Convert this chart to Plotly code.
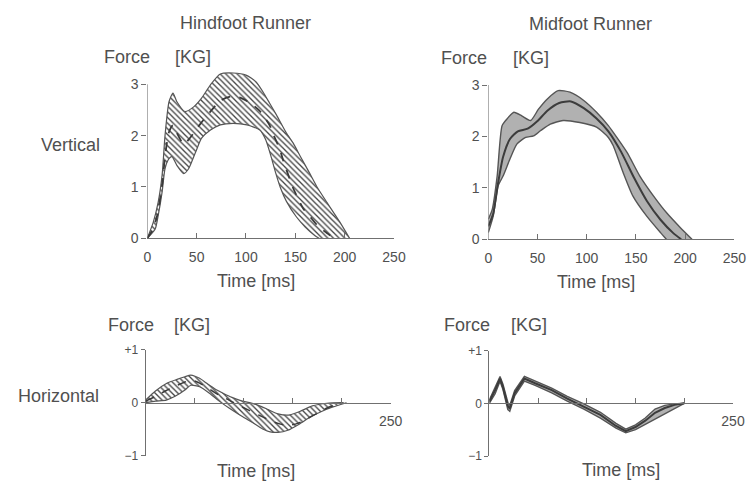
import plotly.graph_objects as go

W, H = 755, 482          # reference picture size
BODY = 8                 # page body margin the browser adds around the figure
FW, FH = W - BODY, H - BODY

# ---------------- data ----------------
# Hindfoot runner, vertical force [kg] vs time [ms]
hv_upper_t = [0, 6, 11, 15, 18, 22, 26, 30, 38, 47, 55, 64, 74, 87, 100, 110, 117, 124, 131, 141, 148, 155, 165, 172, 182, 195, 205]
hv_upper = [0, 0.31, 0.70, 1.23, 2.01, 2.66, 2.83, 2.66, 2.47, 2.56, 2.73, 2.99, 3.20, 3.22, 3.18, 3.05, 2.86, 2.63, 2.40, 2.05, 1.85, 1.60, 1.25, 1.00, 0.70, 0.32, 0]
hv_lower_t = [0, 8, 11, 15, 18, 22, 25, 30, 37, 42, 49, 55, 64, 74, 87, 101, 114, 120, 125, 130, 135, 141, 151, 160, 170, 174]
hv_lower = [0, 0.18, 0.44, 0.90, 1.36, 1.55, 1.59, 1.42, 1.26, 1.36, 1.68, 1.95, 2.11, 2.21, 2.24, 2.21, 2.11, 1.92, 1.62, 1.28, 0.98, 0.72, 0.42, 0.22, 0.05, 0]
hv_mean_t = [0, 5, 10, 15, 18, 22, 26, 30, 37, 43, 53, 64, 74, 84, 94, 104, 114, 124, 128, 134, 138, 148, 158, 165, 172, 180, 189]
hv_mean = [0, 0.15, 0.44, 1.03, 1.60, 2.07, 2.20, 2.05, 1.83, 1.95, 2.21, 2.47, 2.68, 2.76, 2.74, 2.64, 2.48, 2.20, 2.01, 1.75, 1.50, 0.97, 0.58, 0.42, 0.26, 0.13, 0]

# Midfoot runner, vertical force
mv_upper_t = [0, 4, 9, 14, 19, 26, 34, 43, 51, 60, 71, 83, 97, 110, 122, 127, 141, 154, 168, 181, 195, 207]
mv_upper = [0.39, 0.58, 1.23, 2.21, 2.34, 2.47, 2.40, 2.31, 2.53, 2.73, 2.89, 2.86, 2.70, 2.47, 2.21, 2.08, 1.69, 1.23, 0.84, 0.52, 0.23, 0]
mv_lower_t = [0, 5, 10, 15, 22, 29, 38, 46, 53, 63, 76, 93, 110, 122, 127, 137, 147, 161, 175, 181]
mv_lower = [0.13, 0.45, 1.04, 1.23, 1.56, 1.85, 1.98, 2.01, 2.11, 2.24, 2.31, 2.27, 2.18, 1.98, 1.82, 1.30, 0.84, 0.45, 0.13, 0]
mv_mean_t = [0, 5, 10, 15, 22, 30, 40, 50, 60, 72, 84, 97, 110, 122, 135, 148, 161, 175, 188, 196]
mv_mean = [0.25, 0.50, 1.10, 1.60, 1.95, 2.10, 2.15, 2.30, 2.50, 2.65, 2.68, 2.55, 2.35, 2.10, 1.70, 1.20, 0.75, 0.38, 0.12, 0]

# Hindfoot runner, horizontal force
hh_upper_t = [0, 10, 22, 32, 40, 46, 55, 62, 70, 79, 88, 97, 106, 115, 125, 135, 147, 158, 170, 185, 200]
hh_upper = [0.05, 0.22, 0.37, 0.44, 0.49, 0.52, 0.46, 0.37, 0.27, 0.18, 0.10, 0.04, 0.0, -0.05, -0.13, -0.21, -0.23, -0.16, -0.06, -0.01, 0]
hh_lower_t = [0, 10, 21, 30, 40, 46, 55, 65, 75, 85, 96, 105, 113, 120, 127, 135, 145, 157, 168, 180, 191, 205]
hh_lower = [0, 0.03, 0.05, 0.12, 0.24, 0.33, 0.30, 0.18, 0.03, -0.10, -0.23, -0.33, -0.42, -0.50, -0.55, -0.56, -0.52, -0.40, -0.27, -0.16, -0.08, 0]
hh_mean_t = [0, 10, 20, 30, 40, 46, 55, 65, 75, 85, 95, 105, 115, 125, 135, 145, 155, 165, 175, 185, 195, 202]
hh_mean = [0.03, 0.12, 0.22, 0.31, 0.39, 0.43, 0.37, 0.26, 0.14, 0.05, -0.05, -0.14, -0.23, -0.32, -0.39, -0.43, -0.39, -0.30, -0.20, -0.10, -0.03, 0]

# Midfoot runner, horizontal force
mh_t = [0, 6, 11, 14, 19, 21, 26, 36, 47, 64, 80, 97, 114, 130, 140, 150, 160, 170, 180, 190, 200]
mh_upper = [0.06, 0.32, 0.51, 0.36, 0.02, -0.04, 0.24, 0.51, 0.42, 0.29, 0.13, -0.01, -0.17, -0.38, -0.49, -0.41, -0.28, -0.11, -0.04, -0.01, 0]
mh_lower = [0.0, 0.18, 0.42, 0.26, -0.12, -0.15, 0.14, 0.42, 0.34, 0.20, 0.04, -0.11, -0.28, -0.47, -0.56, -0.50, -0.40, -0.30, -0.20, -0.09, 0]
mh_mean = [0.03, 0.25, 0.47, 0.31, -0.05, -0.10, 0.19, 0.47, 0.38, 0.25, 0.09, -0.06, -0.22, -0.43, -0.53, -0.45, -0.33, -0.18, -0.09, -0.03, 0]

vert_ticks = [0, 1, 2, 3]
time_ticks = [0, 50, 100, 150, 200, 250]
time_ticks_h = [50, 100, 150, 200, 250]
time_ticktext_h = ["", "", "", "", "250"]
horiz_ticks = [-1, 0, 1]
horiz_ticktext = ["\u22121", "0", "+1"]

# ---------------- styling ----------------
FONT = "Liberation Sans, Arial, Helvetica, sans-serif"
TXT = "#505050"
AX = "#707070"
EDGE = "#555555"

def fx(px):
    return (px - BODY) / FW

def fy(py):
    return (H - py) / FH

fig = go.Figure()

def hatched_band(t_lo, lo, t_hi, hi, xa, ya, shape_line):
    fig.add_trace(go.Scatter(x=t_lo, y=lo, mode="lines", xaxis=xa, yaxis=ya,
                             line=dict(color=EDGE, width=1.2, shape=shape_line, smoothing=0.6),
                             hoverinfo="skip", showlegend=False))
    fig.add_trace(go.Scatter(x=t_hi, y=hi, mode="lines", xaxis=xa, yaxis=ya, fill="tonexty",
                             fillpattern=dict(shape="\\", fgcolor="#454545", bgcolor="rgba(255,255,255,0)",
                                              size=4, solidity=0.33),
                             line=dict(color=EDGE, width=1.2, shape=shape_line, smoothing=0.6),
                             hoverinfo="skip", showlegend=False))

def gray_band(t_lo, lo, t_hi, hi, xa, ya, shape_line):
    fig.add_trace(go.Scatter(x=t_lo, y=lo, mode="lines", xaxis=xa, yaxis=ya,
                             line=dict(color="#555555", width=1.4, shape=shape_line, smoothing=0.6),
                             hoverinfo="skip", showlegend=False))
    fig.add_trace(go.Scatter(x=t_hi, y=hi, mode="lines", xaxis=xa, yaxis=ya, fill="tonexty",
                             fillcolor="rgba(125,125,125,0.6)",
                             line=dict(color="#555555", width=1.4, shape=shape_line, smoothing=0.6),
                             hoverinfo="skip", showlegend=False))

# top-left: hindfoot vertical
hatched_band(hv_lower_t, hv_lower, hv_upper_t, hv_upper, "x", "y", "spline")
fig.add_trace(go.Scatter(x=hv_mean_t, y=hv_mean, mode="lines", xaxis="x", yaxis="y",
                         line=dict(color="#3a3a3a", width=1.8, dash="dash", shape="spline", smoothing=0.6),
                         hoverinfo="skip", showlegend=False))

# top-right: midfoot vertical
gray_band(mv_lower_t, mv_lower, mv_upper_t, mv_upper, "x2", "y2", "spline")
fig.add_trace(go.Scatter(x=mv_mean_t, y=mv_mean, mode="lines", xaxis="x2", yaxis="y2",
                         line=dict(color="#3c3c3c", width=2, shape="spline", smoothing=0.6),
                         hoverinfo="skip", showlegend=False))

# bottom-left: hindfoot horizontal
hatched_band(hh_lower_t, hh_lower, hh_upper_t, hh_upper, "x3", "y3", "spline")
fig.add_trace(go.Scatter(x=hh_mean_t, y=hh_mean, mode="lines", xaxis="x3", yaxis="y3",
                         line=dict(color="#3a3a3a", width=1.5, dash="dash", shape="spline", smoothing=0.6),
                         hoverinfo="skip", showlegend=False))

# bottom-right: midfoot horizontal
gray_band(mh_t, mh_lower, mh_t, mh_upper, "x4", "y4", "linear")
fig.add_trace(go.Scatter(x=mh_t, y=mh_mean, mode="lines", xaxis="x4", yaxis="y4",
                         line=dict(color="#3c3c3c", width=2),
                         hoverinfo="skip", showlegend=False))

tickfont = dict(family=FONT, size=14, color=TXT)

def xaxis_top(dom, anchor):
    return dict(domain=dom, range=[0, 250], anchor=anchor, showline=True, linecolor=AX, linewidth=1,
                tickvals=time_ticks, ticks="inside", ticklen=5, tickcolor=AX, tickfont=tickfont,
                ticklabelstandoff=6,
                showgrid=False, zeroline=False, fixedrange=True, automargin=False)

def yaxis_top(dom, anchor, top):
    return dict(domain=dom, range=[0, top], anchor=anchor, showline=False,
                tickvals=vert_ticks, ticks="outside", ticklen=5, tickcolor=AX, tickfont=tickfont,
                showgrid=False, zeroline=False, fixedrange=True, automargin=False)

def xaxis_bot(dom, pos):
    return dict(domain=dom, range=[0, 250], anchor="free", position=pos, showline=True, linecolor=AX,
                linewidth=1, tickvals=time_ticks_h, ticktext=time_ticktext_h, ticks="inside", ticklen=5,
                tickcolor=AX, tickfont=dict(family=FONT, size=14, color=TXT), ticklabelstandoff=5,
                showgrid=False, zeroline=False, fixedrange=True, automargin=False)

def yaxis_bot(dom, anchor):
    return dict(domain=dom, range=[-1, 1], anchor=anchor, showline=True, linecolor=AX, linewidth=1,
                tickvals=horiz_ticks, ticktext=horiz_ticktext, ticks="outside", ticklen=4, tickcolor=AX,
                tickfont=dict(family=FONT, size=12, color=TXT),
                showgrid=False, zeroline=False, fixedrange=True, automargin=False)

tl_top = 3.3
fig.update_layout(
    template="none",
    xaxis=xaxis_top([fx(147.3), fx(394)], "y"),
    yaxis=yaxis_top([fy(238.3), fy(238.3 - tl_top * 51.33)], "x", tl_top),
    xaxis2=xaxis_top([fx(488.3), fx(734.3)], "y2"),
    yaxis2=yaxis_top([fy(239.3), fy(239.3 - tl_top * 51.43)], "x2", tl_top),
    xaxis3=xaxis_bot([fx(145.7), fx(390.7)], fy(402.7)),
    yaxis3=yaxis_bot([fy(455.7), fy(349.7)], "x3"),
    xaxis4=xaxis_bot([fx(489.3), fx(733)], fy(403.3)),
    yaxis4=yaxis_bot([fy(456), fy(350.6)], "x4"),
)

# vertical axis lines of the top panels (0..3 only)
for xr, yr in (("x", "y"), ("x2", "y2")):
    fig.add_shape(type="line", xref=xr, yref=yr, x0=0, x1=0, y0=0, y1=3,
                  line=dict(color=AX, width=1), layer="above")

def label(text, px, py, size=18, xanchor="center"):
    fig.add_annotation(text=text, x=fx(px), y=fy(py), xref="paper", yref="paper",
                       showarrow=False, xanchor=xanchor, yanchor="middle",
                       font=dict(family=FONT, size=size, color=TXT))

label("Hindfoot Runner", 245, 23)
label("Midfoot Runner", 590, 24)
label("Force", 102, 57, xanchor="left")
label("[KG]", 173, 57, xanchor="left")
label("Force", 439, 58, xanchor="left")
label("[KG]", 511, 58, xanchor="left")
label("Force", 106, 325, xanchor="left")
label("[KG]", 172, 325, xanchor="left")
label("Force", 442, 325, xanchor="left")
label("[KG]", 509, 325, xanchor="left")
label("Vertical", 71, 145)
label("Horizontal", 58, 396)
label("Time [ms]", 256, 281)
label("Time [ms]", 596, 282)
label("Time [ms]", 256, 471)
label("Time [ms]", 621, 470)

fig.update_layout(width=FW, height=FH, margin=dict(l=0, r=0, t=0, b=0, pad=0, autoexpand=False),
                  paper_bgcolor="white", plot_bgcolor="rgba(0,0,0,0)", showlegend=False)

fig.write_html("out.html")
